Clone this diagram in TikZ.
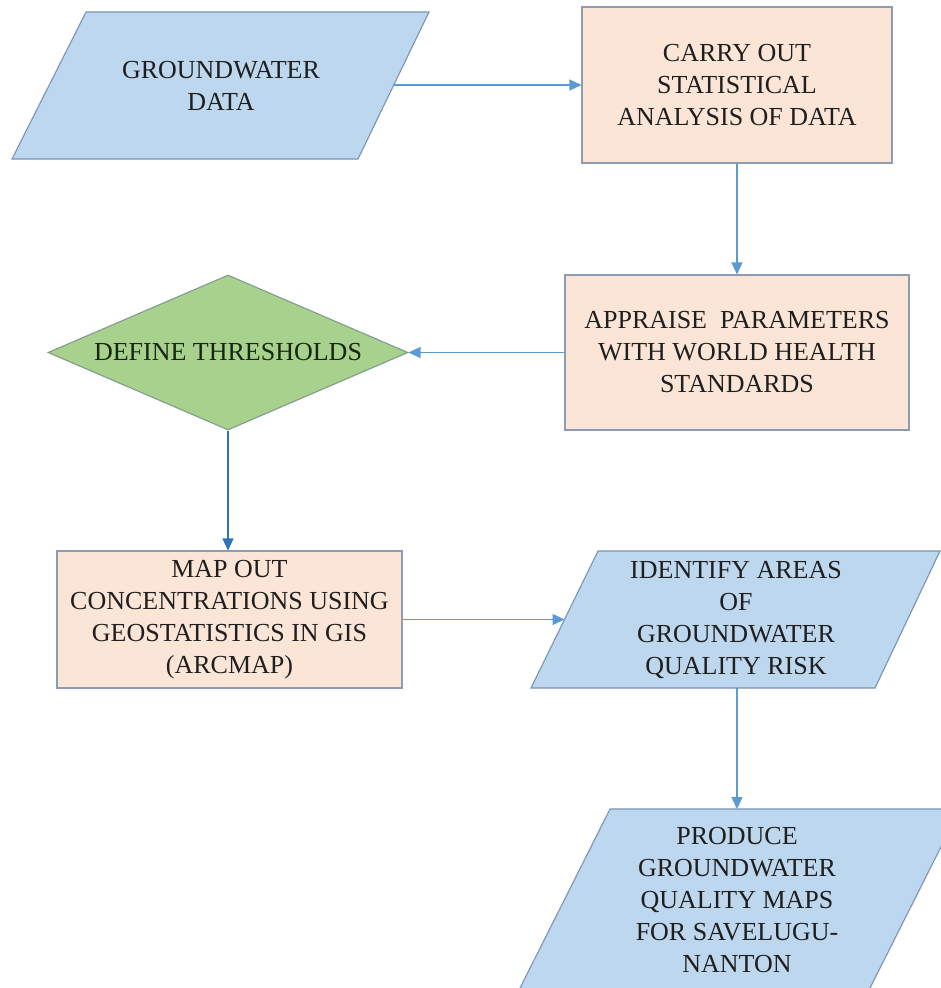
\documentclass[tikz,border=0pt]{standalone}
\usepackage{fontspec}
\setmainfont{LiberationSerif}[Extension=.ttf, UprightFont=*-Regular, BoldFont=*-Bold]
\usetikzlibrary{arrows.meta,shapes.geometric}
\definecolor{blueF}{HTML}{BDD7EE}
\definecolor{blueD}{HTML}{7994B3}
\definecolor{peachF}{HTML}{FBE5D6}
\definecolor{peachD}{HTML}{8C9DB3}
\definecolor{greenF}{HTML}{A9D18E}
\definecolor{greenD}{HTML}{7F9C8A}
\definecolor{arrowC}{HTML}{5B9BD5}
\definecolor{arrowDark}{HTML}{2E75B6}
\definecolor{txt}{HTML}{1F1F1F}
\definecolor{txtG}{HTML}{14280F}
\tikzset{
  lbl/.style={font=\rmfamily\fontsize{26}{32}\selectfont, align=center, text=txt, inner sep=0pt},
  bluepar/.style={fill=blueF, draw=blueD, line width=1.1pt, line join=miter},
  peachbox/.style={rectangle, fill=peachF, draw=peachD, line width=1.1pt, lbl},
  greendiam/.style={diamond, fill=greenF, draw=greenD, line width=1.1pt, lbl, text=txtG},
  flow/.style={draw=arrowC, line width=1.4pt, -{Triangle[length=12pt,width=11pt]}},
}
\begin{document}
\begin{tikzpicture}[x=1pt,y=-1pt]
\clip (0,0) rectangle (941,988);
\fill[white] (0,0) rectangle (941,988);

% GROUNDWATER DATA
\draw[bluepar] (86,12) -- (429,12) -- (358,159) -- (12,159) -- cycle;
\node[lbl] (gw) at (221,86) {GROUNDWATER\\DATA};
\coordinate (gwE) at (393.7,85);

% CARRY OUT
\node[peachbox, minimum width=310pt, minimum height=156pt] (carry) at (737,85)
  {CARRY OUT\\STATISTICAL\\ANALYSIS OF DATA};

% APPRAISE
\node[peachbox, minimum width=344pt, minimum height=155pt] (appraise) at (737,352.5)
  {APPRAISE\ \ PARAMETERS\\WITH WORLD HEALTH\\STANDARDS};

% DEFINE THRESHOLDS
\node[greendiam, aspect=2.32, minimum width=360pt, minimum height=155pt] (define) at (228,352.5)
  {DEFINE THRESHOLDS};

% MAP OUT
\node[peachbox, minimum width=345pt, minimum height=137pt] (mapout) at (229.5,619.5)
  {MAP OUT\\CONCENTRATIONS USING\\GEOSTATISTICS IN GIS\\(ARCMAP)};

% IDENTIFY AREAS
\draw[bluepar] (598,551) -- (940,551) -- (875,688) -- (531,688) -- cycle;
\node[lbl] (identify) at (736,620) {IDENTIFY AREAS\\OF\\GROUNDWATER\\QUALITY RISK};
\coordinate (idW) at (564.5,619.5);
\coordinate (idS) at (737,688);

% PRODUCE
\draw[bluepar] (610,809) -- (960,809) -- (864,1000) -- (514,1000) -- cycle;
\node[lbl] (produce) at (737,900) {PRODUCE\\GROUNDWATER\\QUALITY MAPS\\FOR SAVELUGU-\\NANTON};
\coordinate (prN) at (737,809);

% connectors
\draw[flow] (gwE) -- (carry.west);
\draw[flow] (carry.south) -- (appraise.north);
\draw[flow] (appraise.west) -- (define.east);
\draw[flow, draw=arrowDark] (define.south) -- (define.south |- mapout.north);
\draw[flow] (mapout.east) -- (idW);
\draw[flow] (idS) -- (prN);
\end{tikzpicture}
\end{document}
